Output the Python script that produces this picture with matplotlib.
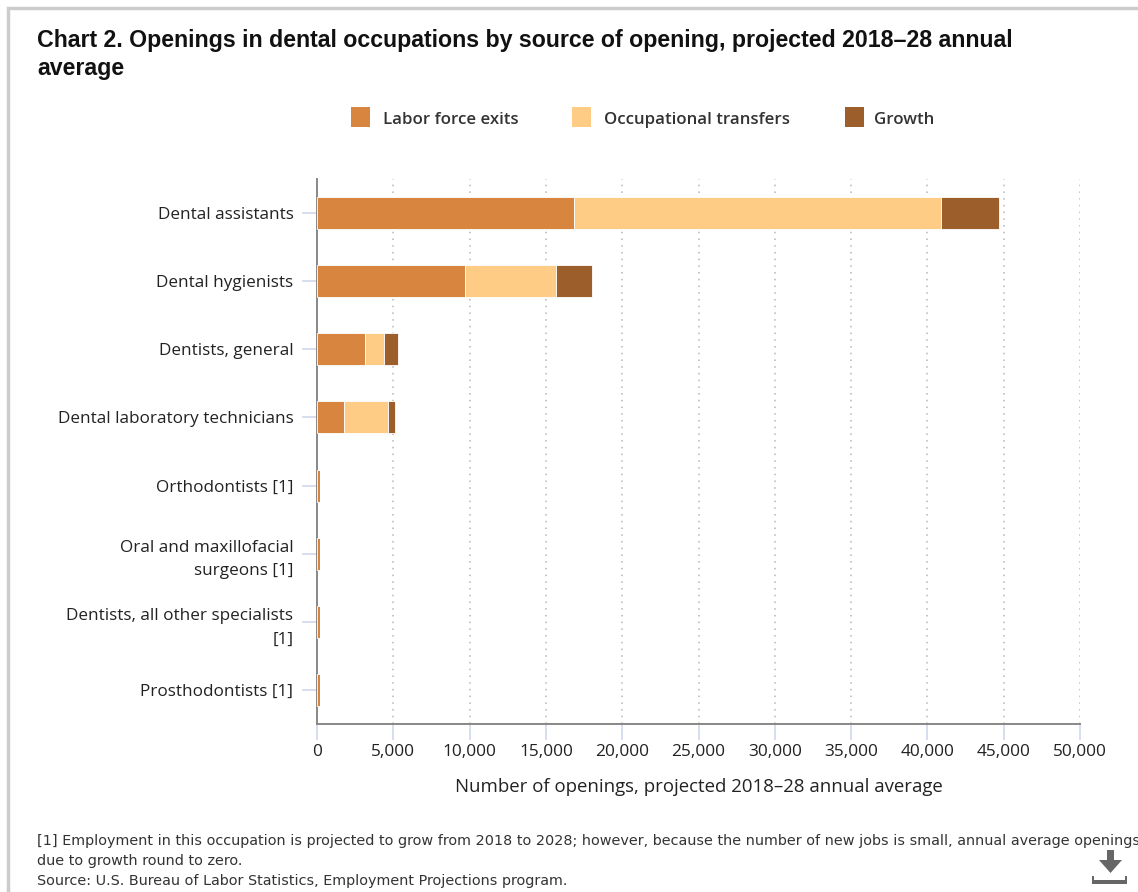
import matplotlib
matplotlib.use("Agg")
import matplotlib.pyplot as plt
from matplotlib.patches import Rectangle, Polygon
from matplotlib.ticker import MultipleLocator, FuncFormatter

occupations = [
    "Dental assistants",
    "Dental hygienists",
    "Dentists, general",
    "Dental laboratory technicians",
    "Orthodontists [1]",
    "Oral and maxillofacial\nsurgeons [1]",
    "Dentists, all other specialists\n[1]",
    "Prosthodontists [1]",
]
labor_force_exits = [16840, 9700, 3150, 1770, 170, 170, 170, 170]
occupational_transfers = [24050, 5960, 1240, 2880, 0, 0, 0, 0]
growth = [3800, 2360, 910, 450, 0, 0, 0, 0]
series_names = ["Labor force exits", "Occupational transfers", "Growth"]
series_colors = ["#D8863F", "#FFCC85", "#9C5F2C"]

W, H = 1138, 892
BODY = "Open Sans"
INK = "#222222"

fig = plt.figure(figsize=(W / 100, H / 100), dpi=100, facecolor="white")


def fx(px):
    return px / W


def fy(py):
    return 1 - py / H


# Outer card border, running off the right and bottom of the canvas
fig.add_artist(Rectangle((fx(8), fy(960)), fx(1200), fy(8) - fy(960),
                         transform=fig.transFigure, fill=False,
                         edgecolor="#CCCCCC", linewidth=2.5))

ax = fig.add_axes([fx(317), fy(724), fx(763), fy(179) - fy(724)])
positions = list(range(len(occupations)))
left = [0] * len(occupations)
for name, values, color in zip(series_names,
                               [labor_force_exits, occupational_transfers, growth],
                               series_colors):
    ax.barh(positions, values, left=left, height=0.47, color=color,
            edgecolor="white", linewidth=0.6, label=name, zorder=3)
    left = [a + b for a, b in zip(left, values)]

ax.set_xlim(0, 50000)
ax.set_ylim(len(occupations) - 0.5, -0.5)
ax.set_yticks(positions)
ax.set_yticklabels(occupations, fontsize=12.3, family=BODY, color=INK,
                   linespacing=1.65)
ax.xaxis.set_major_locator(MultipleLocator(5000))
ax.xaxis.set_major_formatter(FuncFormatter(lambda v, _: f"{int(v):,}"))
for lab in ax.get_xticklabels():
    lab.set_fontsize(12.4)
    lab.set_family(BODY)
    lab.set_color(INK)
ax.tick_params(axis="x", length=11.5, width=1.1, color="#CCD6EB", pad=3.2)
ax.tick_params(axis="y", length=11, width=1.1, color="#CCD6EB", pad=6)
ax.grid(axis="x", linestyle=(0, (1, 3.4)), color="#B5B5B5", linewidth=1.1, zorder=1)
ax.set_axisbelow(True)
for side in ("top", "right"):
    ax.spines[side].set_visible(False)
for side in ("left", "bottom"):
    ax.spines[side].set_color("#888888")
    ax.spines[side].set_linewidth(1.4)
ax.set_xlabel("Number of openings, projected 2018–28 annual average",
              fontsize=13.45, family=BODY, color=INK, labelpad=0)
ax.xaxis.set_label_coords((699 - 317) / 763, -(787 - 724) / 545, transform=ax.transAxes)
ax.xaxis.label.set_va("center")

# Title
for y, line in [(41, "Chart 2. Openings in dental occupations by source of opening, projected 2018–28 annual"),
                (69, "average")]:
    fig.text(fx(37), fy(y), line, fontsize=16.68, fontweight="bold",
             family="Liberation Sans", color="#111111", va="center")

# Legend placed by hand to keep the original spacing between entries
for name, color, box_x, text_x in zip(series_names, series_colors,
                                      [351, 572, 845], [383, 604, 874]):
    fig.add_artist(Rectangle((fx(box_x), fy(127)), fx(19), fy(107) - fy(127),
                             transform=fig.transFigure, facecolor=color,
                             edgecolor="none"))
    fig.text(fx(text_x), fy(120), name, fontsize=12.2, fontweight="semibold",
             family=BODY, color="#333333", va="center")

# Footnotes
notes = [
    (841, "[1] Employment in this occupation is projected to grow from 2018 to 2028; however, because the number of new jobs is small, annual average openings"),
    (861, "due to growth round to zero."),
    (881, "Source: U.S. Bureau of Labor Statistics, Employment Projections program."),
]
for y, line in notes:
    fig.text(fx(37), fy(y), line, fontsize=10.35, family="DejaVu Sans", color="#333333", va="center")

# Download icon
icon = "#666666"
arrow = [(1107, 850), (1114, 850), (1114, 860), (1122, 860), (1110.5, 873), (1099, 860), (1107, 860)]
fig.add_artist(Polygon([(fx(a), fy(b)) for a, b in arrow], closed=True,
                       transform=fig.transFigure, facecolor=icon, edgecolor="none"))
for x0, y0, x1, y1 in [(1092, 876, 1094, 884), (1125, 876, 1127, 884), (1092, 880, 1127, 884)]:
    fig.add_artist(Rectangle((fx(x0), fy(y1)), fx(x1 - x0), fy(y0) - fy(y1),
                             transform=fig.transFigure, facecolor=icon, edgecolor="none"))

fig.savefig("out.png", dpi=100, facecolor="white")
